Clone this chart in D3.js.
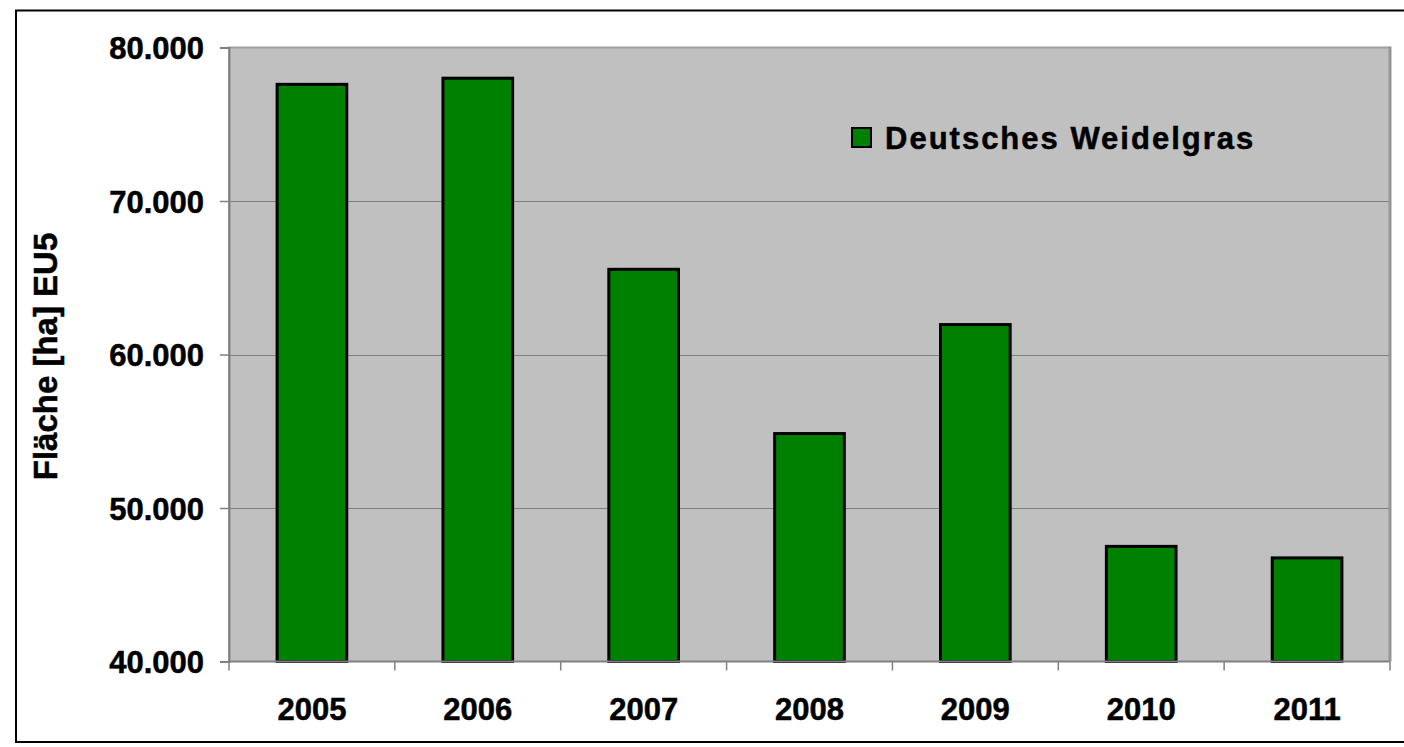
<!DOCTYPE html>
<html>
<head>
<meta charset="utf-8">
<script src="https://cdn.jsdelivr.net/npm/d3@7"></script>
<style>
  body { margin: 0; background: #fff; }
  svg { display: block; font-family: "Liberation Sans", Arial, sans-serif; font-weight: bold; }
  svg text { stroke: #000; stroke-width: 0.5px; }
</style>
</head>
<body>
<div id="chart"></div>
<script>
var years = ['2005', '2006', '2007', '2008', '2009', '2010', '2011'];
var flaeche = [77600, 78000, 65550, 54850, 61950, 47500, 46750];
var yTicks = [40000, 50000, 60000, 70000, 80000];
var seriesName = 'Deutsches Weidelgras';
var yTitle = 'Fläche [ha] EU5';

var WIDTH = 1404, HEIGHT = 747;
var PLOT = { left: 229, top: 47.5, right: 1390, bottom: 661.5 };
var FONT_SIZE = 31;

var svg = d3.select('#chart').append('svg')
    .attr('width', WIDTH)
    .attr('height', HEIGHT);

// outer frame
svg.append('rect')
    .attr('x', 16).attr('y', 10.5)
    .attr('width', WIDTH).attr('height', 731.5)
    .attr('fill', '#fff')
    .attr('stroke', '#000')
    .attr('stroke-width', 2);

var xScale = d3.scaleBand().domain(years)
    .range([PLOT.left, PLOT.right])
    .paddingInner(0.58).paddingOuter(0.29);
var xBand = d3.scaleBand().domain(years).range([PLOT.left, PLOT.right]);
var yScale = d3.scaleLinear().domain([40000, 80000])
    .range([PLOT.bottom, PLOT.top]);

// plot area
svg.append('rect')
    .attr('x', PLOT.left).attr('y', PLOT.top)
    .attr('width', PLOT.right - PLOT.left)
    .attr('height', PLOT.bottom - PLOT.top)
    .attr('fill', '#c0c0c0');

// grid lines
svg.append('g').selectAll('line')
    .data(yTicks.slice(1, -1))
    .enter().append('line')
    .attr('x1', PLOT.left).attr('x2', PLOT.right)
    .attr('y1', function (d) { return Math.round(yScale(d)) + 0.5; })
    .attr('y2', function (d) { return Math.round(yScale(d)) + 0.5; })
    .attr('stroke', '#808080').attr('stroke-width', 1);

// plot border (light top/left, darker right)
svg.append('path')
    .attr('d', 'M' + PLOT.left + ',' + PLOT.bottom + 'V' + PLOT.top + 'H' + PLOT.right)
    .attr('fill', 'none').attr('stroke', '#a0a0a0').attr('stroke-width', 2);
svg.append('path')
    .attr('d', 'M' + PLOT.right + ',' + (PLOT.top - 1) + 'V' + PLOT.bottom)
    .attr('fill', 'none').attr('stroke', '#969696').attr('stroke-width', 3);

// bars
svg.append('g').selectAll('rect')
    .data(flaeche)
    .enter().append('rect')
    .attr('x', function (d, i) { return xScale(years[i]); })
    .attr('width', xScale.bandwidth())
    .attr('y', function (d) { return yScale(d); })
    .attr('height', function (d) { return yScale(40000) - yScale(d); })
    .attr('fill', '#008000')
    .attr('stroke', '#000')
    .attr('stroke-width', 3);

// axes
var yAxis = svg.append('g')
    .attr('transform', 'translate(' + PLOT.left + ',0)')
    .call(d3.axisLeft(yScale).tickValues(yTicks)
        .tickFormat(function (d) { return d3.format(',')(d).replace(/,/g, '.'); })
        .tickSize(9).tickPadding(16));
yAxis.select('.domain').attr('stroke', '#808080').attr('stroke-width', 2);
yAxis.selectAll('.tick line').attr('stroke', '#808080').attr('stroke-width', 1.5);
yAxis.selectAll('text')
    .attr('font-size', FONT_SIZE)
    .attr('font-family', '"Liberation Sans", Arial, sans-serif')
    .attr('font-weight', 'bold')
    .attr('fill', '#000')
    .attr('dy', '0.36em');

var xAxis = svg.append('g')
    .attr('transform', 'translate(0,' + PLOT.bottom + ')');
xAxis.append('line')
    .attr('x1', PLOT.left).attr('x2', PLOT.right)
    .attr('stroke', '#808080').attr('stroke-width', 2);
xAxis.selectAll('.xtick')
    .data(years.concat(['end']))
    .enter().append('line')
    .attr('x1', function (d, i) { return i < years.length ? xBand(d) : PLOT.right; })
    .attr('x2', function (d, i) { return i < years.length ? xBand(d) : PLOT.right; })
    .attr('y1', 0).attr('y2', 9)
    .attr('stroke', '#808080').attr('stroke-width', 1.5);
xAxis.selectAll('text')
    .data(years)
    .enter().append('text')
    .attr('x', function (d) { return xBand(d) + xBand.bandwidth() / 2; })
    .attr('y', 58)
    .attr('text-anchor', 'middle')
    .attr('font-size', FONT_SIZE)
    .attr('fill', '#000')
    .text(function (d) { return d; });

// y title
svg.append('text')
    .attr('transform', 'translate(57,' + ((PLOT.top + PLOT.bottom) / 2 + 2) + ') rotate(-90)')
    .attr('text-anchor', 'middle')
    .attr('font-size', 33)
    .attr('fill', '#000')
    .text(yTitle);

// legend
var legend = svg.append('g').attr('transform', 'translate(852,128)');
legend.append('rect')
    .attr('width', 19).attr('height', 19)
    .attr('fill', '#008000')
    .attr('stroke', '#000').attr('stroke-width', 2);
legend.append('text')
    .attr('x', 33).attr('y', 20.5)
    .attr('font-size', 31)
    .attr('letter-spacing', '2px')
    .attr('fill', '#000')
    .text(seriesName);
</script>
</body>
</html>
